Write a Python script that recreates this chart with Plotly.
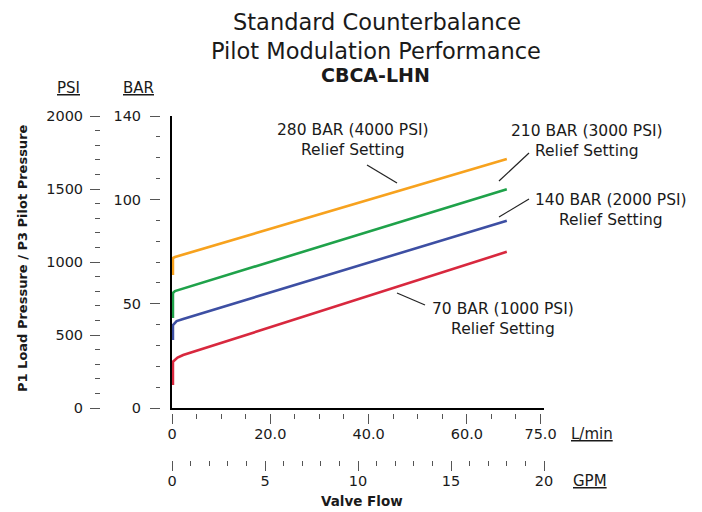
import plotly.graph_objects as go

W, H = 702, 512

# ---- data (flow in GPM, pressure in PSI) ----
series_names = ["280 BAR (4000 PSI)", "210 BAR (3000 PSI)", "140 BAR (2000 PSI)", "70 BAR (1000 PSI)"]
flow_280 = [0.05, 0.05, 0.16, 18.0]
psi_280 = [911, 1027, 1034, 1705]
flow_210 = [0.05, 0.05, 0.16, 18.0]
psi_210 = [616, 788, 801, 1498]
flow_140 = [0.05, 0.05, 0.25, 0.6, 18.0]
psi_140 = [466, 568, 595, 610, 1283]
flow_70 = [0.05, 0.05, 0.3, 0.6, 18.0]
psi_70 = [158, 317, 345, 363, 1070]

psi_ticks = [0, 500, 1000, 1500, 2000]
bar_ticks = [0, 50, 100, 140]
bar_minor = [10, 20, 30, 40, 60, 70, 80, 90, 110, 120, 130]
lmin_ticks = [0, 20, 40, 60, 75]
lmin_labels = ["0", "20.0", "40.0", "60.0", "75.0"]
lmin_minor = [5, 10, 15, 25, 30, 35, 45, 50, 55, 65, 70]
gpm_ticks = [0, 5, 10, 15, 20]

colors = ["#F7A21E", "#1FA24A", "#3D4FA3", "#D8283E"]
FONT = "DejaVu Sans"
TXT = "#1a1a1a"
TICKC = "#555555"


def px(x):
    return x / W


def py(y):
    return 1 - y / H


fig = go.Figure()
for name, fx, fy, c in zip(series_names,
                           [flow_280, flow_210, flow_140, flow_70],
                           [psi_280, psi_210, psi_140, psi_70], colors):
    fig.add_trace(go.Scatter(x=fx, y=fy, mode="lines", name=name,
                             line=dict(color=c, width=2.6), xaxis="x", yaxis="y",
                             showlegend=False, hoverinfo="skip"))

xdom = [px(172), px(544)]
ydom = [1 - 408 / H, 1 - 116 / H]

tickfont = dict(family=FONT, size=14.5, color=TXT)

fig.update_layout(
    width=W, height=H, autosize=False,
    margin=dict(l=0, r=0, t=0, b=0, pad=0),
    paper_bgcolor="white", plot_bgcolor="white",
    showlegend=False,
    xaxis=dict(domain=xdom, range=[0, 20], anchor="y3", showline=True, linecolor="black",
               linewidth=2, ticks="", showticklabels=False, showgrid=False, zeroline=False,
               automargin=False),
    yaxis=dict(domain=ydom, range=[0, 2000], anchor="free", position=px(100),
               tickmode="array", tickvals=psi_ticks, ticks="outside", ticklen=10,
               tickcolor=TICKC, tickwidth=1, showline=False, showgrid=False, zeroline=False,
               tickfont=tickfont, ticklabelstandoff=4, automargin=False,
               minor=dict(tickmode="linear", tick0=0, dtick=100, ticks="outside", ticklen=5,
                          tickcolor=TICKC, tickwidth=1, showgrid=False)),
    yaxis2=dict(overlaying="y", range=[0, 140], anchor="free", position=px(160),
                tickmode="array", tickvals=bar_ticks, ticks="outside", ticklen=10,
                tickcolor=TICKC, tickwidth=1, showline=False, showgrid=False, zeroline=False,
                tickfont=tickfont, ticklabelstandoff=6, automargin=False,
                minor=dict(tickmode="array", tickvals=bar_minor, ticks="outside", ticklen=4,
                           tickcolor=TICKC, tickwidth=1, showgrid=False)),
    yaxis3=dict(overlaying="y", range=[0, 2000], anchor="x", showline=True, linecolor="black",
                linewidth=2, ticks="", showticklabels=False, showgrid=False, zeroline=False,
                automargin=False),
    xaxis2=dict(overlaying="x", range=[0, 75.7], anchor="free", position=1 - 413 / H,
                tickmode="array", tickvals=lmin_ticks, ticktext=lmin_labels,
                ticks="outside", ticklen=10, tickcolor=TICKC, tickwidth=1,
                showline=False, showgrid=False, zeroline=False, tickfont=tickfont,
                side="bottom", ticklabelstandoff=-2, automargin=False,
                minor=dict(tickmode="array", tickvals=lmin_minor, ticks="outside", ticklen=5,
                           tickcolor=TICKC, tickwidth=1, showgrid=False)),
    xaxis3=dict(overlaying="x", range=[0, 20], anchor="free", position=1 - 460 / H,
                tickmode="array", tickvals=gpm_ticks,
                ticks="outside", ticklen=10, tickcolor=TICKC, tickwidth=1,
                showline=False, showgrid=False, zeroline=False, tickfont=tickfont,
                side="bottom", ticklabelstandoff=-2, automargin=False,
                minor=dict(tickmode="linear", tick0=0, dtick=1, ticks="outside", ticklen=5,
                           tickcolor=TICKC, tickwidth=1, showgrid=False)),
)

# dummy traces so the overlay axes render
fig.add_trace(go.Scatter(x=[None], y=[None], xaxis="x2", yaxis="y2", showlegend=False))
fig.add_trace(go.Scatter(x=[None], y=[None], xaxis="x3", yaxis="y3", showlegend=False))

ann = []


def add_text(text, x, y, size, bold=False, xanchor="center", angle=0):
    t = f"<b>{text}</b>" if bold else text
    ann.append(dict(text=t, x=px(x), y=py(y), xref="paper", yref="paper",
                    xanchor=xanchor, yanchor="middle", showarrow=False, textangle=angle,
                    font=dict(family=FONT, size=size, color=TXT)))


add_text("Standard Counterbalance", 377, 22, 22.5)
add_text("Pilot Modulation Performance", 376, 51, 22.5)
add_text("CBCA-LHN", 375, 75, 19, bold=True)
add_text("P1 Load Pressure / P3 Pilot Pressure", 22, 258, 13, bold=True, angle=-90)
add_text("Valve Flow", 362, 501, 13.5, bold=True)
add_text("<u>PSI</u>", 68, 88, 15)
add_text("<u>BAR</u>", 138, 88, 15)
add_text("<u>L/min</u>", 569, 434, 15, xanchor="left")
add_text("<u>GPM</u>", 571, 481, 15, xanchor="left")

add_text("280 BAR (4000 PSI)<br>Relief Setting", 353, 140, 15.5)
add_text("210 BAR (3000 PSI)<br>Relief Setting", 587, 141, 15.5)
add_text("140 BAR (2000 PSI)<br>Relief Setting", 611, 210, 15.5)
add_text("70 BAR (1000 PSI)<br>Relief Setting", 503, 319, 15.5)

fig.update_layout(annotations=ann)

leaders = [((367, 165), (397, 183)),
           ((529, 153), (499, 181)),
           ((529, 199), (499, 217)),
           ((397, 293), (425, 305))]
for (x0, y0), (x1, y1) in leaders:
    fig.add_shape(type="line", xref="paper", yref="paper",
                  x0=px(x0), y0=py(y0), x1=px(x1), y1=py(y1),
                  line=dict(color="#222222", width=1.2))

fig.write_html("out.html", config={"displayModeBar": False},
               post_script="document.body.style.margin='0';document.body.style.padding='0';")
